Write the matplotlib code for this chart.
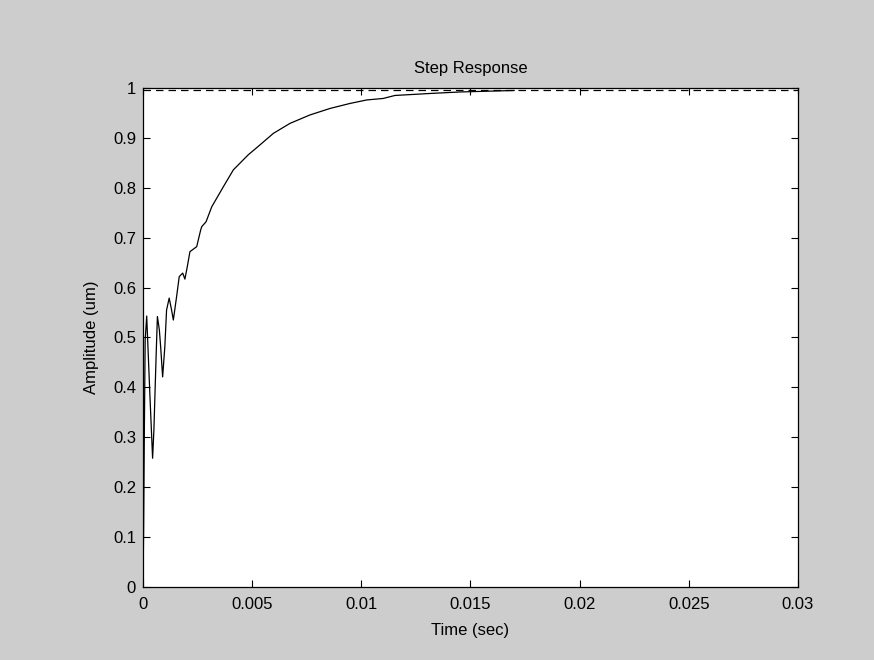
import numpy as np
from matplotlib import pyplot as plt

plt.rcParams['font.family'] = ['Liberation Sans', 'DejaVu Sans']

# step response
time = [0, 0.00003, 0.00006, 0.0001, 0.00017, 0.00032, 0.00044, 0.0005, 0.0006, 0.00066,
        0.00075, 0.00081, 0.0009, 0.001, 0.00108, 0.0012, 0.00131, 0.00139, 0.00154,
        0.00166, 0.00182, 0.00192, 0.00203, 0.00215, 0.00246, 0.00264, 0.00269, 0.00289,
        0.00315, 0.00368, 0.00414, 0.00482, 0.00536, 0.00597, 0.00673, 0.00765, 0.00857,
        0.00948, 0.01025, 0.011, 0.01154, 0.01315, 0.01452, 0.017]
amp = [0, 0.12, 0.3, 0.495, 0.543, 0.381, 0.258, 0.315, 0.461, 0.542,
       0.515, 0.481, 0.421, 0.481, 0.555, 0.579, 0.555, 0.535, 0.582,
       0.622, 0.629, 0.617, 0.642, 0.672, 0.682, 0.715, 0.722, 0.732,
       0.762, 0.802, 0.836, 0.866, 0.886, 0.909, 0.929, 0.946, 0.959,
       0.969, 0.976, 0.979, 0.985, 0.989, 0.992, 0.995]
final_value = 0.995

fig = plt.figure(figsize=(8.74, 6.60), dpi=100, facecolor='#cdcdcd')
ax = fig.add_axes([0.1636, 0.1106, 0.7494, 0.7561])
ax.plot(time, amp, color='black', lw=0.9)
ax.axhline(final_value, color='black', lw=0.9, ls=(0, (6, 4)))

ax.set_xlim(0, 0.03)
ax.set_ylim(0, 1)
ax.set_xticks([0, 0.005, 0.01, 0.015, 0.02, 0.025, 0.03])
ax.set_xticklabels(['0', '0.005', '0.01', '0.015', '0.02', '0.025', '0.03'])
ax.set_yticks(np.arange(0, 1.01, 0.1))
ax.set_yticklabels(['0', '0.1', '0.2', '0.3', '0.4', '0.5', '0.6', '0.7', '0.8', '0.9', '1'])
ax.tick_params(direction='in', top=True, right=True, labelsize=12, length=5, width=0.8)
ax.tick_params(axis='x', pad=7)
ax.tick_params(axis='y', pad=5)
for s in ax.spines.values():
    s.set_linewidth(0.9)

ax.set_title("Step Response", fontsize=12, pad=11)
ax.set_xlabel("Time (sec)", fontsize=12, labelpad=8)
ax.set_ylabel("Amplitude (um)", fontsize=12, labelpad=10)

plt.savefig('out.png', dpi=100, facecolor=fig.get_facecolor())
